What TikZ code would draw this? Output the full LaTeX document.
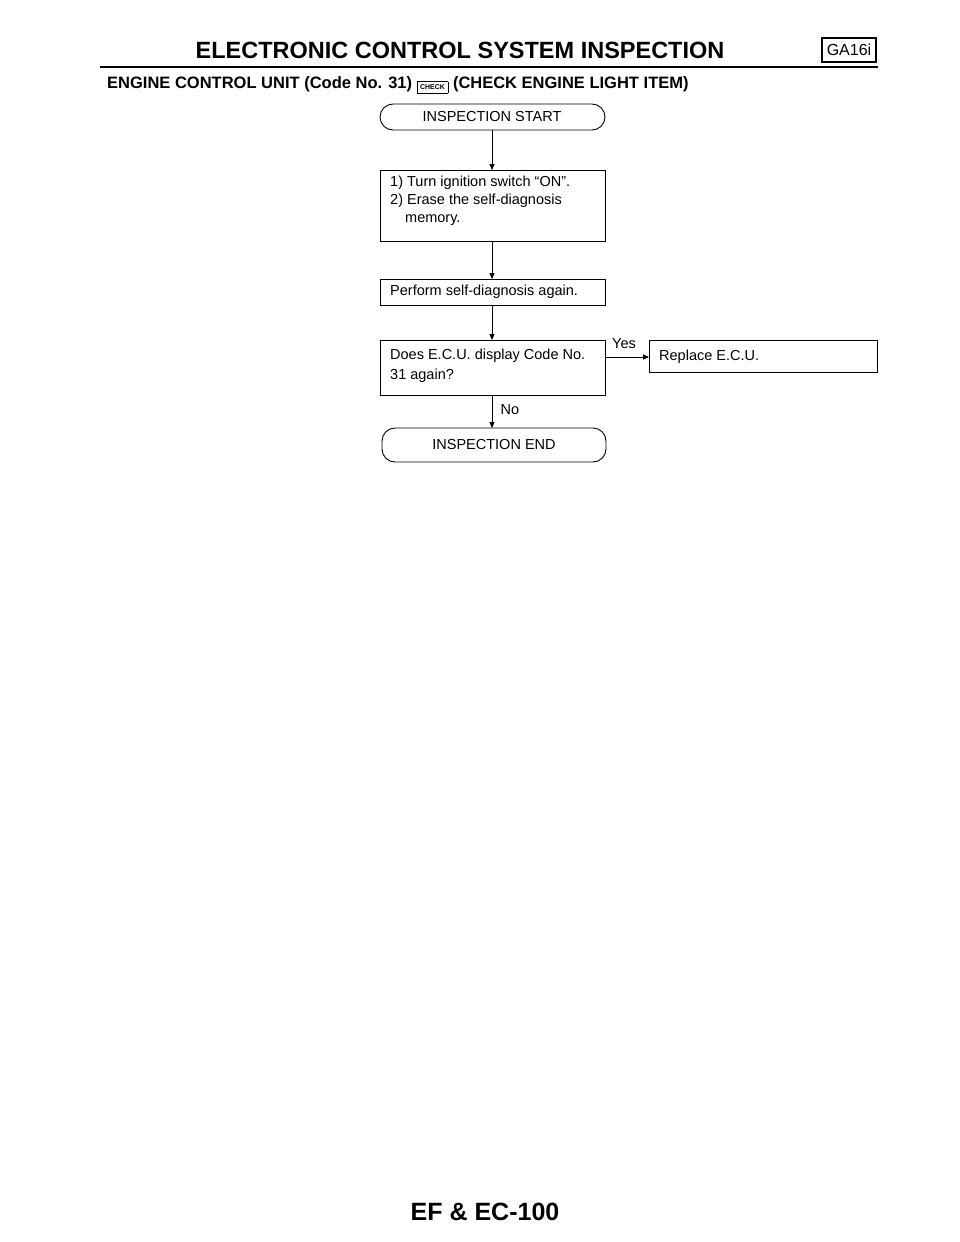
\documentclass[tikz,border=0pt]{standalone}
\usepackage{fontspec}
\setmainfont{Liberation Sans}
\usetikzlibrary{arrows.meta}
\begin{document}
\begin{tikzpicture}[x=1pt,y=-1pt,
  box/.style={draw,line width=0.9pt,anchor=north west,inner sep=0pt},
  txt/.style={font=\fontsize{14.5}{16}\selectfont,anchor=west,align=left,inner sep=0pt},
  term/.style={draw,line width=0.9pt,rounded corners=13pt},
  arr/.style={line width=0.9pt,-{Triangle[length=6pt,width=5pt]}}]
\useasboundingbox (0,0) rectangle (960,1242);
\node[font=\bfseries\fontsize{23.5}{26}\selectfont] (title) at (460,50) {ELECTRONIC CONTROL SYSTEM INSPECTION};
\node[draw,line width=1.2pt,font=\fontsize{16}{17}\selectfont,minimum width=54pt,minimum height=24pt,inner sep=0pt] (ga) at (849,50) {GA16i};
\draw[line width=1.8pt] (100,67) -- (878,67);
\node[anchor=west,font=\bfseries\fontsize{16.5}{18}\selectfont,inner sep=0pt] (sub) at (107,85) {ENGINE CONTROL UNIT (Code No. 31) \raisebox{-1pt}{\fontsize{7}{7}\selectfont\fbox{CHECK}} (CHECK ENGINE LIGHT ITEM)};
% start
\draw[term] (380,104) rectangle (605,130);
\node[font=\fontsize{14.5}{16}\selectfont] (start) at (492,117) {INSPECTION START};
\coordinate (sb) at (492,130);
% box1
\draw[line width=0.9pt] (380,170) rectangle (605,241);
\coordinate (b1t) at (492,170); \coordinate (b1b) at (492,241);
\node[txt] (t1) at (390,183) {1) Turn ignition switch ``ON''.};
\node[txt] (t2) at (390,201) {2) Erase the self-diagnosis};
\node[txt] (t3) at (405,220) {memory.};
% box2
\draw[line width=0.9pt] (380,279) rectangle (605,305);
\coordinate (b2t) at (492,279); \coordinate (b2b) at (492,305);
\node[txt] (t4) at (390,292) {Perform self-diagnosis again.};
% box3
\draw[line width=0.9pt] (380,340) rectangle (605,395);
\coordinate (b3t) at (492,340); \coordinate (b3b) at (492,395); \coordinate (b3r) at (605,357);
\node[txt] (t5) at (390,356) {Does E.C.U. display Code No.};
\node[txt] (t6) at (390,376) {31 again?};
% replace
\draw[line width=0.9pt] (649,340) rectangle (877,372);
\coordinate (rl) at (649,357);
\node[txt] (t7) at (659,357) {Replace E.C.U.};
% end
\draw[term] (382,428) rectangle (606,462);
\coordinate (et) at (492,428);
\node[font=\fontsize{14.5}{16}\selectfont] (end) at (494,445) {INSPECTION END};
\draw[arr] (sb) -- (b1t);
\draw[arr] (b1b) -- (b2t);
\draw[arr] (b2b) -- (b3t);
\draw[arr] (b3r) -- (rl);
\draw[arr] (b3b) -- (et);
\node[font=\fontsize{14.5}{16}\selectfont] (yes) at (624,344) {Yes};
\node[font=\fontsize{14.5}{16}\selectfont,anchor=west] (no) at (497,410) {No};
\node[font=\bfseries\fontsize{25}{28}\selectfont] (foot) at (485,1212) {EF \& EC-100};
\end{tikzpicture}
\end{document}
